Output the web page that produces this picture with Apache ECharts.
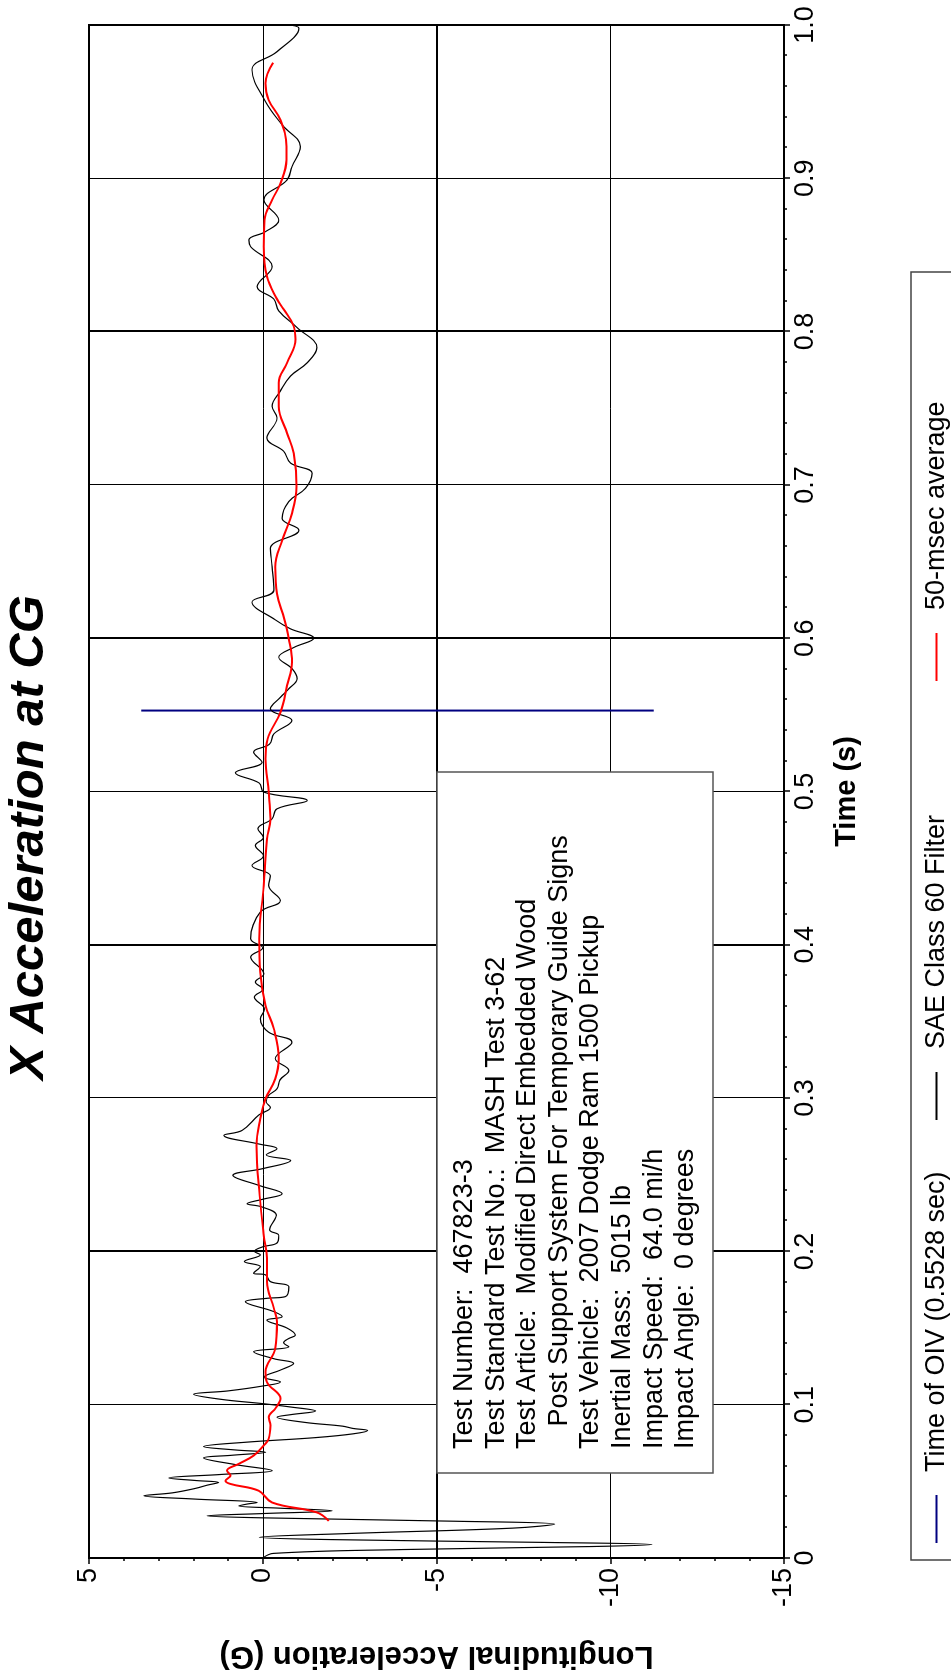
<!DOCTYPE html>
<html>
<head>
<meta charset="utf-8">
<title>X Acceleration at CG</title>
<script src="https://cdn.jsdelivr.net/npm/echarts@6.0.0/dist/echarts.min.js"></script>
<style>
html, body { margin: 0; padding: 0; background: #fff; overflow: hidden; width: 951px; height: 1675px; }
/* chart is drawn landscape, then turned a quarter turn to the left like the report page */
#main { position: absolute; left: 0; top: 0; width: 1675px; height: 951px;
        transform-origin: 0 0; transform: translateY(1675px) rotate(-90deg); }
</style>
</head>
<body>
<div id="main"></div>
<script>
// SAE Class 60 filtered signal  [time (s), accel (G)]
var sae60 = [
    [0, 0], [0.003, -0.3], [0.0055, -4], [0.0075, -9.5], [0.0088, -11.2], [0.0102, -8],
    [0.012, -2], [0.0135, 0.1], [0.016, -2.5], [0.0195, -7.2], [0.0221, -8.4], [0.024, -5.5],
    [0.0262, 0], [0.0275, 1.6], [0.029, 0], [0.0308, -2.0], [0.0325, -0.5], [0.034, 0.69],
    [0.0352, 0.45], [0.0362, 0.16], [0.0385, 2.0], [0.0406, 3.42], [0.0425, 2.6], [0.0454, 1.94],
    [0.0475, 1.6], [0.0493, 1.27], [0.0505, 1.9], [0.0522, 2.7], [0.0545, 1.2], [0.057, -0.27],
    [0.061, 0.8], [0.0653, 1.7], [0.067, 0.9], [0.069, -0.08], [0.0705, 0.8], [0.0727, 1.7],
    [0.0755, 0.5], [0.0785, -1.5], [0.081, -2.6], [0.0832, -3.02], [0.0845, -2.6], [0.086, -2.3],
    [0.0885, -1.2], [0.0919, -0.41], [0.0935, -0.8], [0.0959, -1.52], [0.0985, -0.8], [0.1007, 0],
    [0.1035, 1.2], [0.1068, 1.99], [0.109, 1.0], [0.1122, 0], [0.1148, -0.51], [0.118, -0.03],
    [0.1225, -0.5], [0.1269, -0.89], [0.130, -0.32], [0.1345, 0.26], [0.1378, -0.75], [0.1405, -0.6],
    [0.1432, -0.75], [0.1454, -0.94], [0.150, -0.7], [0.1552, -0.12], [0.1574, -0.56], [0.1607, -0.32],
    [0.1672, 0.5], [0.1694, -0.12], [0.1705, -0.65], [0.177, -0.75], [0.1803, -0.22], [0.1847, -0.08],
    [0.1858, 0.26], [0.190, 0.07], [0.1934, 0.53], [0.1978, 0.07], [0.200, 0.24], [0.203, 0],
    [0.2055, -0.41], [0.2104, -0.46], [0.2141, -0.2], [0.2235, -0.39], [0.229, 0.02], [0.2311, 0.45],
    [0.234, 0], [0.2376, -0.56], [0.243, 0.1], [0.2496, 0.86], [0.254, 0], [0.2593, -0.8],
    [0.263, -0.1], [0.267, -0.41], [0.270, 0.1], [0.2757, 1.12], [0.279, 0.59], [0.2889, 0.12],
    [0.2939, -0.22], [0.2975, -0.1], [0.3017, -0.17], [0.3061, -0.41], [0.312, -0.5], [0.318, -0.75],
    [0.3257, -0.36], [0.3365, -0.84], [0.343, -0.17], [0.3517, 0.07], [0.358, -0.05], [0.3659, 0.24],
    [0.371, 0], [0.3757, 0.21], [0.381, -0.03], [0.392, 0.35], [0.398, 0], [0.404, 0.35],
    [0.4213, 0.07], [0.4289, -0.51], [0.4387, -0.17], [0.445, -0.22], [0.4517, 0.31], [0.458, -0.02],
    [0.4648, 0.21], [0.470, -0.02], [0.4757, 0.14], [0.4822, -0.27], [0.4887, -0.41], [0.4941, -1.28],
    [0.4996, -0.03], [0.5055, 0.1], [0.5122, 0.79], [0.5191, 0.02], [0.5257, 0.26], [0.531, -0.2],
    [0.5376, -0.32], [0.5463, -0.84], [0.5539, -0.22], [0.5615, -0.51], [0.567, -0.75], [0.5735, -0.99],
    [0.580, -0.85], [0.5876, -0.46], [0.594, -0.9], [0.600, -1.47], [0.6061, -0.8], [0.612, -0.36],
    [0.6236, 0.31], [0.6313, -0.32], [0.6465, -0.27], [0.6585, -0.22], [0.6705, -1.04], [0.6782, -0.56],
    [0.6891, -0.75], [0.6978, -1.23], [0.7076, -1.42], [0.7142, -0.8], [0.722, -0.6], [0.7306, -0.12],
    [0.7437, -0.41], [0.7513, -0.27], [0.761, -0.5], [0.771, -0.8], [0.7797, -1.28], [0.7895, -1.56],
    [0.8026, -0.99], [0.8135, -0.46], [0.8212, -0.32], [0.8293, 0.16], [0.8424, -0.27], [0.8554, 0.35],
    [0.8598, 0.4], [0.8652, -0.08], [0.8728, -0.46], [0.8859, -0.03], [0.8989, -0.7], [0.9076, -0.84],
    [0.9207, -1.08], [0.9348, -0.56], [0.950, -0.08], [0.9707, 0.31], [0.9826, -0.41], [0.9978, -1.04],
    [1.0, -0.7]
];

// 50-msec moving average
var avg50 = [
    [0.0242, -1.9], [0.0297, -1.56], [0.0362, -0.27], [0.0439, 0.12], [0.0483, 0.93], [0.0504, 1.07],
    [0.0537, 0.93], [0.057, 1.03], [0.0614, 0.69], [0.0668, 0.26], [0.0734, -0.03], [0.0777, -0.17],
    [0.0865, -0.22], [0.0919, -0.17], [0.0974, -0.36], [0.1039, -0.51], [0.1148, -0.12], [0.1214, -0.08],
    [0.1367, -0.36], [0.1541, -0.41], [0.1629, -0.32], [0.1803, -0.12], [0.1956, -0.12], [0.2104, -0.03],
    [0.2365, 0.09], [0.2691, 0.18], [0.2865, 0.07], [0.2996, -0.08], [0.3126, -0.36], [0.3257, -0.46],
    [0.3452, -0.32], [0.3604, -0.08], [0.3822, 0.07], [0.4039, 0.1], [0.4387, -0.03], [0.4691, -0.12],
    [0.4822, -0.22], [0.4996, -0.17], [0.5213, -0.08], [0.5343, -0.14], [0.5517, -0.51], [0.5691, -0.7],
    [0.5843, -0.84], [0.5996, -0.75], [0.6126, -0.62], [0.629, -0.41], [0.6465, -0.36], [0.664, -0.56],
    [0.6814, -0.84], [0.6989, -0.97], [0.7207, -0.89], [0.7338, -0.7], [0.7513, -0.46], [0.7666, -0.46],
    [0.7797, -0.7], [0.795, -0.94], [0.8037, -0.89], [0.8146, -0.6], [0.8212, -0.41], [0.8359, -0.12],
    [0.8554, -0.03], [0.8728, -0.05], [0.8859, -0.27], [0.8967, -0.51], [0.912, -0.68], [0.9207, -0.68],
    [0.938, -0.51], [0.9511, -0.17], [0.962, -0.08], [0.9754, -0.3]
];

// time of occupant impact velocity marker
var oivTime = 0.5528;
var oivSpan = [3.5, -11.25];

var timeTicks = [0, 1, 0.1];     // min, max, step
var accelTicks = [-15, 5, 5];

var infoLines = [
    'Test Number:  467823-3',
    'Test Standard Test No.:  MASH Test 3-62',
    'Test Article:  Modified Direct Embedded Wood',
    '   Post Support System For Temporary Guide Signs',
    'Test Vehicle:  2007 Dodge Ram 1500 Pickup',
    'Inertial Mass:  5015 lb',
    'Impact Speed:  64.0 mi/h',
    'Impact Angle:  0 degrees'
];

var FONT = '"Liberation Sans", Arial, Helvetica, sans-serif';

var myChart = echarts.init(document.getElementById('main'));

var infoText = infoLines.map(function (line, i) {
    return {
        type: 'text', z: 11,
        x: 226, y: 451 + i * 31.6,
        style: { text: line, font: '27px ' + FONT, fill: '#000', textVerticalAlign: 'top' }
    };
});

function oneLegend(name, left) {
    return {
        data: [name], left: left, top: 923, padding: 0,
        icon: 'rect', itemWidth: 48, itemHeight: 2,
        selectedMode: false,
        textStyle: { fontFamily: FONT, fontSize: 27, color: '#000', padding: [0, 0, 0, 18] }
    };
}

var option = {
    backgroundColor: '#fff',
    animation: false,
    title: {
        text: 'X Acceleration at CG',
        left: 'center', top: 0,
        textStyle: { fontFamily: FONT, fontSize: 49, fontWeight: 'bold', fontStyle: 'italic', color: '#000' }
    },
    legend: [
        oneLegend('Time of OIV (0.5528 sec)', 132),
        oneLegend('SAE Class 60 Filter', 555),
        oneLegend('50-msec average', 994)
    ],
    grid: {
        left: 117, right: 25, top: 89, bottom: 167,
        show: true, borderColor: '#000', borderWidth: 2,
        outerBoundsMode: 'none'
    },
    xAxis: [{
        type: 'value',
        min: timeTicks[0], max: timeTicks[1], interval: timeTicks[2],
        name: 'Time (s)', nameLocation: 'middle', nameGap: 48,
        nameTextStyle: { fontFamily: FONT, fontSize: 29, fontWeight: 'bold', color: '#000' },
        axisLine: { onZero: false, lineStyle: { color: '#000', width: 2 } },
        axisTick: { length: 6, lineStyle: { color: '#000', width: 1.5 } },
        minorTick: { show: true, splitNumber: 5, length: 3, lineStyle: { color: '#000', width: 1.5 } },
        axisLabel: {
            margin: 8, fontFamily: FONT, fontSize: 27, color: '#000',
            formatter: function (v) { return v === 0 ? '0' : v.toFixed(1); }
        },
        splitLine: { show: true, lineStyle: { color: '#000', width: 1 } }
    }, {
        // heavier grid line every 0.2 s
        type: 'value', position: 'bottom',
        min: timeTicks[0], max: timeTicks[1], interval: 0.2,
        axisLine: { show: false, onZero: false }, axisTick: { show: false }, axisLabel: { show: false },
        splitLine: { show: true, lineStyle: { color: '#000', width: 2 } }
    }],
    yAxis: [{
        type: 'value',
        min: accelTicks[0], max: accelTicks[1], interval: accelTicks[2],
        name: 'Longitudinal Acceleration (G)', nameLocation: 'middle', nameGap: 82, nameRotate: 90,
        nameTextStyle: { fontFamily: FONT, fontSize: 31, fontWeight: 'bold', color: '#000' },
        axisLine: { show: true, onZero: false, lineStyle: { color: '#000', width: 2 } },
        axisTick: { show: true, length: 6, lineStyle: { color: '#000', width: 1.5 } },
        minorTick: { show: true, splitNumber: 5, length: 3, lineStyle: { color: '#000', width: 1.5 } },
        axisLabel: { margin: 10, fontFamily: FONT, fontSize: 27, color: '#000' },
        splitLine: { show: true, lineStyle: { color: '#000', width: 1 } }
    }, {
        // heavier grid line at -5 G
        type: 'value', position: 'left',
        min: accelTicks[0], max: accelTicks[1], interval: 10,
        axisLine: { show: false, onZero: false }, axisTick: { show: false }, axisLabel: { show: false },
        splitLine: { show: true, lineStyle: { color: '#000', width: 2 } }
    }],
    series: [{
        name: 'Time of OIV (0.5528 sec)',
        type: 'line', z: 12,
        showSymbol: false, silent: true,
        color: '#000080',
        lineStyle: { color: '#000080', width: 2 },
        data: oivSpan.map(function (a) { return [oivTime, a]; })
    }, {
        name: 'SAE Class 60 Filter',
        type: 'line', z: 12,
        showSymbol: false, silent: true, smooth: 0.4,
        color: '#000',
        lineStyle: { color: '#000', width: 1.2 },
        data: sae60
    }, {
        name: '50-msec average',
        type: 'line', z: 13,
        showSymbol: false, silent: true, smooth: 0.4,
        color: '#ff0000',
        lineStyle: { color: '#ff0000', width: 2 },
        data: avg50
    }],
    graphic: [{
        // test information box
        type: 'group', z: 10,
        children: [{
            type: 'rect', z: 10,
            shape: { x: 202, y: 437, width: 701, height: 276 },
            style: { fill: '#fff', stroke: '#555', lineWidth: 1.5 }
        }].concat(infoText)
    }, {
        // legend frame, runs off the page edge
        type: 'rect', z: 1,
        shape: { x: 115, y: 911, width: 1288, height: 60 },
        style: { fill: 'none', stroke: '#444', lineWidth: 1.5 }
    }]
};

myChart.setOption(option);
</script>
</body>
</html>
